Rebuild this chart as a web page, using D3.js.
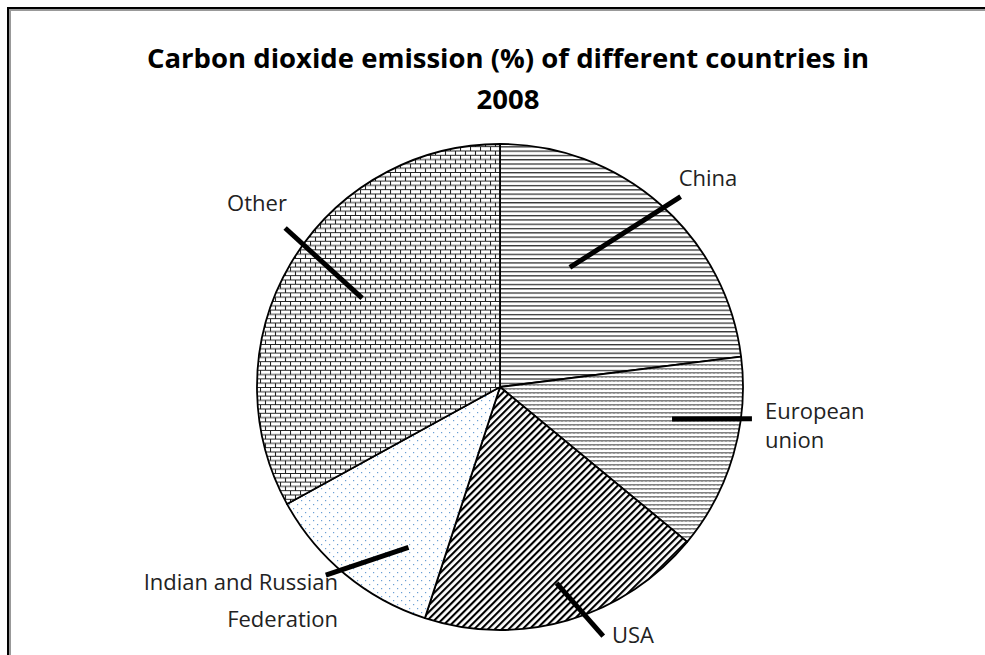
<!DOCTYPE html>
<html>
<head>
  <meta charset="UTF-8">
  <style>
body {
    margin: 0;
    background: white;
}
text {
    font-family: 'Open Sans', sans-serif;
    fill: #222;
}
.title {
    font-weight: bold;
    font-size: 27.5px;
    fill: black;
}
.label {
    font-size: 22px;
}
  </style>
</head>
<body>
<svg id="chart"></svg>

<script src="https://d3js.org/d3.v7.min.js"></script>
<script>

let width = 985, height = 655;

// data
let countries = ["China", "European union", "USA", "Indian and Russian Federation", "Other"];
let shares = [23, 13, 19, 12, 33];
let patternIds = ["hlines", "waves", "diag", "dots", "bricks"];
let labelLines = [["China"], ["European", "union"], ["USA"], ["Indian and Russian", "Federation"], ["Other"]];

let svg = d3.select("#chart")
    .attr("width", width)
    .attr("height", height);

// frame (only top and left are in view)
svg.append("path")
    .attr("d", "M9.5,655 V9.5 H985")
    .attr("fill", "none")
    .attr("stroke", "#999")
    .attr("stroke-width", 3);
svg.append("path")
    .attr("d", "M8,655 V8 H985")
    .attr("fill", "none")
    .attr("stroke", "black")
    .attr("stroke-width", 2);

// title
let title = svg.append("text")
    .attr("class", "title")
    .attr("text-anchor", "middle");
title.append("tspan").attr("x", 508).attr("y", 68).text("Carbon dioxide emission (%) of different countries in");
title.append("tspan").attr("x", 508).attr("y", 109).text("2008");

// patterns
let defs = svg.append("defs");

let p1 = defs.append("pattern").attr("id", "hlines")
    .attr("patternUnits", "userSpaceOnUse").attr("width", 8).attr("height", 4.3);
p1.append("rect").attr("width", 8).attr("height", 4.3).attr("fill", "white");
p1.append("rect").attr("y", 0).attr("width", 8).attr("height", 1.3).attr("fill", "#333");

let p2 = defs.append("pattern").attr("id", "waves")
    .attr("patternUnits", "userSpaceOnUse").attr("width", 4).attr("height", 4);
p2.append("rect").attr("width", 4).attr("height", 4).attr("fill", "white");
p2.append("path").attr("d", "M0,2.6 L1,1.2 L2,2.6 L3,1.2 L4,2.6")
    .attr("fill", "none").attr("stroke", "#444").attr("stroke-width", 1);

let p3 = defs.append("pattern").attr("id", "diag")
    .attr("patternUnits", "userSpaceOnUse").attr("width", 4.9).attr("height", 10)
    .attr("patternTransform", "rotate(45)");
p3.append("rect").attr("width", 4.9).attr("height", 10).attr("fill", "white");
p3.append("rect").attr("width", 2.1).attr("height", 10).attr("fill", "black");

let p4 = defs.append("pattern").attr("id", "dots")
    .attr("patternUnits", "userSpaceOnUse").attr("width", 8).attr("height", 8);
p4.append("rect").attr("width", 8).attr("height", 8).attr("fill", "white");
p4.append("rect").attr("x", 1).attr("y", 1).attr("width", 1.2).attr("height", 1.2).attr("fill", "#6a9fd4");
p4.append("rect").attr("x", 5).attr("y", 5).attr("width", 1.2).attr("height", 1.2).attr("fill", "#6a9fd4");

let p5 = defs.append("pattern").attr("id", "bricks")
    .attr("patternUnits", "userSpaceOnUse").attr("width", 10).attr("height", 8.6);
p5.append("rect").attr("width", 10).attr("height", 8.6).attr("fill", "white");
p5.append("path")
    .attr("d", "M0,0.5 H10 M0,4.8 H10 M0.5,0.5 V4.8 M5.5,4.8 V8.6")
    .attr("fill", "none").attr("stroke", "#222").attr("stroke-width", 1.1);

// pie
let cx = 500, cy = 387, radius = 243;

let pie = d3.pie().sort(null).value(d => d);
let arcs = pie(shares);
let arc = d3.arc().innerRadius(0).outerRadius(radius);

let g = svg.append("g").attr("transform", "translate(" + cx + "," + cy + ")");

g.selectAll("path.slice")
    .data(arcs)
    .enter()
    .append("path")
    .attr("class", "slice")
    .attr("d", arc)
    .attr("fill", (d, i) => "url(#" + patternIds[i] + ")")
    .attr("stroke", "black")
    .attr("stroke-width", 1.8)
    .attr("stroke-linejoin", "round");

// leader lines: two polar points [degrees from top, fraction of radius]
let leaders = [
    [[30.3, 0.57], [43.5, 1.08]],
    [[100.5, 0.72], [97.2, 1.045]],
    [[163.9, 0.84], [157.5, 1.11]],
    [[209.7, 0.76], [222.8, 1.055]],
    [[302.8, 0.675], [306.5, 1.1]]
];
let polar = q => {
    let a = q[0] * Math.PI / 180;
    return [Math.sin(a) * q[1] * radius, -Math.cos(a) * q[1] * radius];
};

g.selectAll("line.leader")
    .data(leaders)
    .enter()
    .append("line")
    .attr("class", "leader")
    .attr("x1", d => polar(d[0])[0]).attr("y1", d => polar(d[0])[1])
    .attr("x2", d => polar(d[1])[0]).attr("y2", d => polar(d[1])[1])
    .attr("stroke", "black")
    .attr("stroke-width", 5);

// labels: x, baseline y, anchor, line spacing
let labelPos = [[708, 186, "middle", 0], [765, 419, "start", 29], [612, 643, "start", 0], [338, 590, "end", 37], [257, 211, "middle", 0]];

labelLines.forEach((lines, i) => {
    let t = svg.append("text")
        .attr("class", "label")
        .attr("text-anchor", labelPos[i][2]);
    lines.forEach((s, j) => {
        t.append("tspan")
            .attr("x", labelPos[i][0])
            .attr("y", labelPos[i][1] + j * labelPos[i][3])
            .text(s);
    });
});

</script>

</body>
</html>
